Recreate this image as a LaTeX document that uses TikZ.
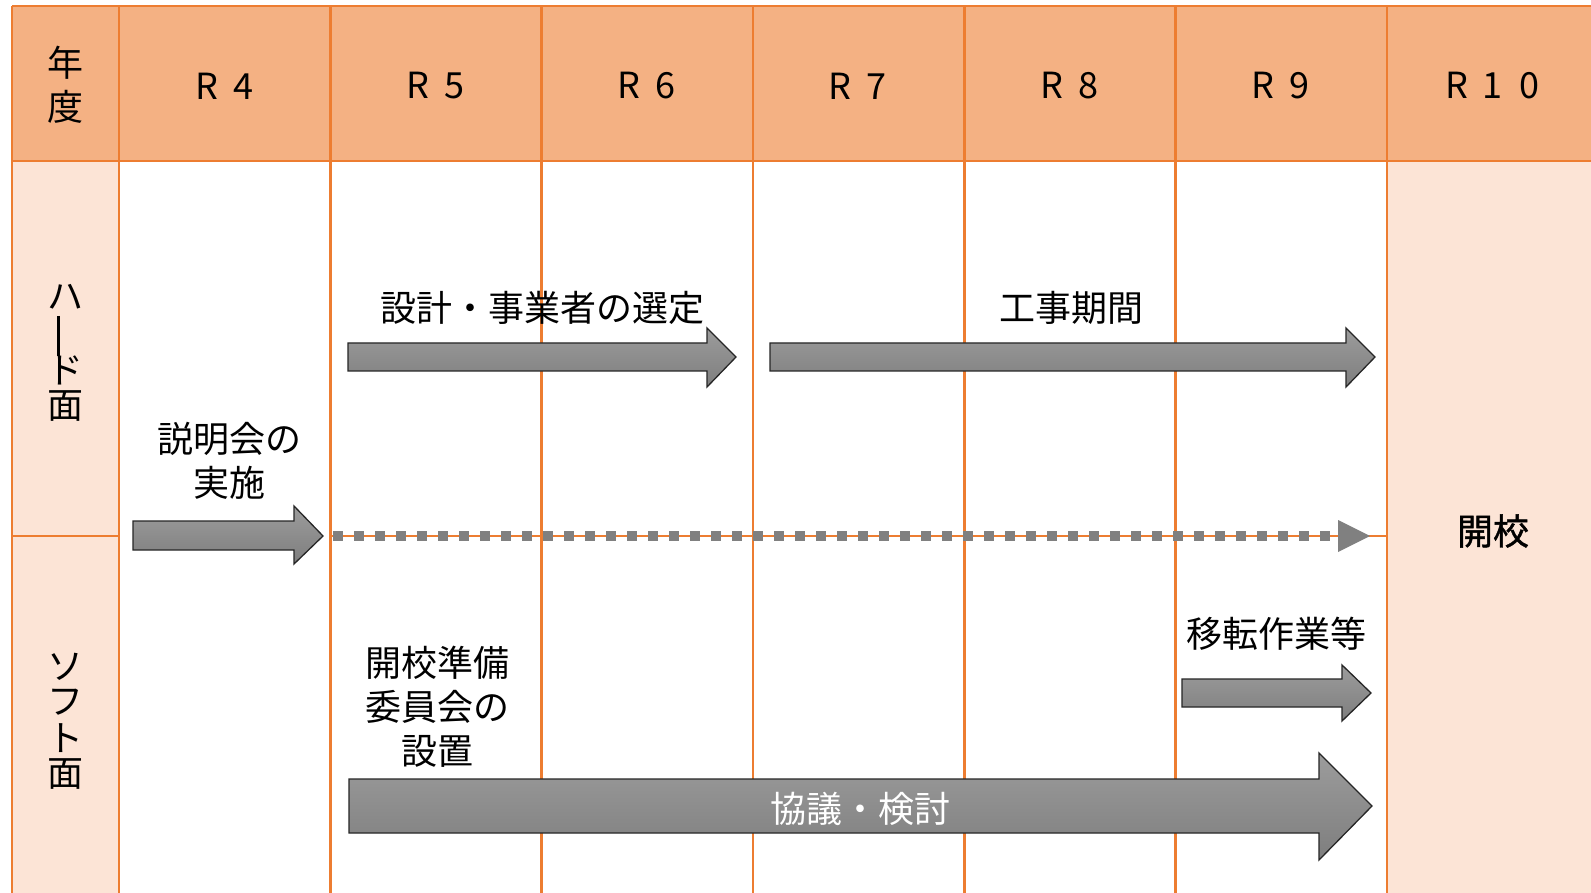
\documentclass[tikz,border=0pt]{standalone}
\usepackage{fontspec}
\setmainfont{Noto Sans CJK JP}
\newfontfamily\boldjp[FakeBold=1.2]{Noto Sans CJK JP}
\definecolor{hdr}{HTML}{F4B183}
\definecolor{pale}{HTML}{FCE4D6}
\definecolor{gridc}{HTML}{ED7D31}
\definecolor{arrtop}{HTML}{9C9C9C}
\definecolor{arrbot}{HTML}{7E7E7E}
\definecolor{dotc}{HTML}{808080}
\tikzset{
  gridline/.style={draw=gridc, line width=2.8pt},
  bigarrow/.style={top color=arrtop, bottom color=arrbot, draw=black!85, line width=1.3pt, line join=miter},
  lbl/.style={inner sep=0pt, font=\fontsize{36}{44}\selectfont, align=center},
  hdrlbl/.style={inner sep=0pt, font=\fontsize{36}{44}\selectfont},
}
\newcommand{\wch}[1]{\makebox[36.5pt]{#1}}
\begin{document}
\begin{tikzpicture}[x=1pt, y=-1pt]
\useasboundingbox (0,0) rectangle (1591,893);
% fills
\fill[white] (12,6) rectangle (1600,900);
\fill[hdr] (12,6) rectangle (1600,161);
\fill[pale] (12,161) rectangle (119,900);
\fill[pale] (1387,161) rectangle (1600,900);
% grid lines
\foreach \x in {12,119,330.5,541.8,753,964.3,1175.6,1387}
  \draw[gridline] (\x,6) -- (\x,900);
\draw[gridline] (12,6) -- (1600,6);
\draw[gridline] (12,161) -- (1600,161);
\draw[gridline] (12,536) -- (119,536);
\draw[gridline] (330.5,536) -- (1387,536);
% header texts
\node[lbl] (nendo) at (65,85) {年\\度};
\node[hdrlbl] (r4) at (225,86) {\wch{R}\wch{4}};
\node[hdrlbl] (r5) at (436,86) {\wch{R}\wch{5}};
\node[hdrlbl] (r6) at (647,86) {\wch{R}\wch{6}};
\node[hdrlbl] (r7) at (858,86) {\wch{R}\wch{7}};
\node[hdrlbl] (r8) at (1070,86) {\wch{R}\wch{8}};
\node[hdrlbl] (r9) at (1281,86) {\wch{R}\wch{9}};
\node[hdrlbl] (r10) at (1493,86) {\wch{R}\wch{1}\wch{0}};
% row labels (vertical)
\node[hdrlbl] (h1) at (65,297) {ハ};
\draw[line width=2.3pt] (58.5,316) -- (58.5,356);
\node[hdrlbl] (h3) at (65,370) {ド};
\node[hdrlbl] (h4) at (65,406) {面};
\node[hdrlbl] (s1) at (65,667) {ソ};
\node[hdrlbl] (s2) at (65,702) {フ};
\node[hdrlbl] (s3) at (65,738) {ト};
\node[hdrlbl] (s4) at (65,774) {面};
% 開校
\node[hdrlbl, font=\fontsize{36}{44}\selectfont\boldjp] (kaiko) at (1493,531) {開校};
% arrow 1: 説明会の実施
\path[bigarrow] (133,521) -- (294,521) -- (294,506) -- (323,536) -- (294,564) -- (294,550) -- (133,550) -- cycle;
\node[lbl] (setsumei) at (229,461) {説明会の\\実施};
% dotted line
\coordinate (ds) at (333,536);
\coordinate (de) at (1336,536);
\draw[dotc, line width=10pt, dash pattern=on 10pt off 11pt] (ds) -- (de);
\fill[dotc] (1338,520) -- (1370,536) -- (1338,552) -- cycle;
% arrow 2: 設計・事業者の選定
\path[bigarrow] (348,343) -- (707,343) -- (707,328) -- (736,357) -- (707,387) -- (707,371) -- (348,371) -- cycle;
\node[lbl] (sekkei) at (542,308) {設計・事業者の選定};
% arrow 3: 工事期間
\path[bigarrow] (770,343) -- (1346,343) -- (1346,328) -- (1375,357) -- (1346,387) -- (1346,371) -- (770,371) -- cycle;
\node[lbl] (koji) at (1071,308) {工事期間};
% arrow 4: 移転作業等
\path[bigarrow] (1182,679) -- (1342,679) -- (1342,665) -- (1371,693) -- (1342,721) -- (1342,707) -- (1182,707) -- cycle;
\node[lbl] (iten) at (1276,634) {移転作業等};
% arrow 5: 協議・検討
\path[bigarrow] (349,779) -- (1319,779) -- (1319,753) -- (1372,806) -- (1319,860) -- (1319,833) -- (349,833) -- cycle;
\node[lbl, text=white] (kyogi) at (860,809) {協議・検討};
% 開校準備委員会の設置
\node[lbl] (iinkai) at (437,707) {開校準備\\委員会の\\設置};
\end{tikzpicture}
\end{document}
